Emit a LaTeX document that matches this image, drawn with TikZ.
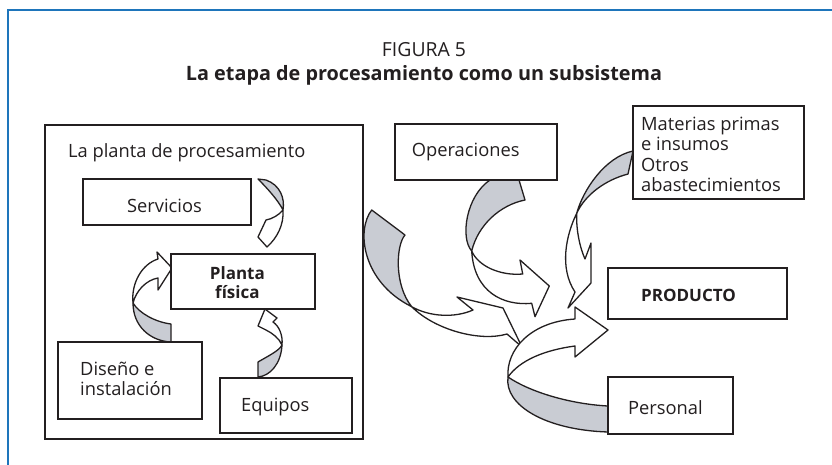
\documentclass[tikz,border=0pt]{standalone}
\usepackage{fontspec}
\setmainfont{Open Sans}
\definecolor{frameblue}{RGB}{30,117,187}
\definecolor{backgray}{RGB}{201,204,211}
\definecolor{ink}{RGB}{35,31,32}
\begin{document}
\begin{tikzpicture}[x=1pt,y=-1pt,
  box/.style={draw=ink, line width=1.8pt, fill=white, inner sep=0pt, rectangle},
  ar/.style={draw=ink, line width=1.3pt, line join=round},
  back/.style={ar, fill=backgray},
  front/.style={ar, fill=white},
  lbl/.style={inner sep=0pt, text=ink, font=\fontsize{18.3}{20.5}\selectfont},
  blbl/.style={inner sep=0pt, text=ink, font=\fontsize{17}{20}\selectfont\bfseries},
]
\useasboundingbox (0,0) rectangle (832,464);
\fill[white] (0,0) rectangle (832,464);
\draw[frameblue, line width=2pt] (8,465) -- (8,10) -- (833,10);

% title
\node[lbl, anchor=base, font=\fontsize{19.4}{20}\selectfont] (fig) at (424,56.7) {FIGURA 5};
\node[blbl, anchor=base, font=\fontsize{19.8}{20}\selectfont\bfseries] (title) at (424,80.7) {La etapa de procesamiento como un subsistema};

% big box
\node[box, fill=none, minimum width=318pt, minimum height=314pt] (plant) at (204,282) {};

% ---- arrows ----
% Servicios -> Planta
\draw[back] (258,179) -- (266,180) .. controls (280,185) and (285,198) .. (283,210)
  .. controls (278,200) and (267,188) .. (258,179) -- cycle;
\draw[front] (283,210) .. controls (284,225) and (277,238) .. (267,247) -- (258,237) -- (266,220)
  .. controls (272,219) and (279,215) .. (283,210) -- cycle;
% Diseno -> Planta
\draw[back] (171,324) -- (171,342) .. controls (150,341) and (133,326) .. (133,303)
  .. controls (139,313) and (155,322) .. (171,324) -- cycle;
\draw[front] (133,303) .. controls (131,283) and (142,264) .. (158,259) -- (157,252) -- (172,268) -- (158,290) -- (158,278)
  .. controls (146,280) and (136,291) .. (133,303) -- cycle;
% Equipos -> Planta
\draw[back] (258,362) -- (258,377) .. controls (270,376) and (281,364) .. (282,345)
  .. controls (279,351) and (268,356) .. (258,362) -- cycle;
\draw[front] (282,345) .. controls (283,335) and (279,326) .. (273,322) -- (277,318) -- (265,309) -- (258,326) -- (266,330)
  .. controls (272,333) and (279,338) .. (282,345) -- cycle;
% Planta (big box) -> producto
\draw[back] (371.7,210) -- (405,235) .. controls (396,245) and (394,285) .. (411.7,306.7)
  .. controls (362,282) and (356,230) .. (371.7,210) -- cycle;
\draw[front] (411.7,306.7) .. controls (430,317) and (455,318) .. (473,310) -- (457,297) -- (503,308) -- (522,347) -- (507,334)
  .. controls (480,342) and (435,330) .. (411.7,306.7) -- cycle;
% Operaciones -> producto
\draw[back] (490,180) -- (519,180) -- (525,200) .. controls (500,205) and (478,225) .. (471.7,251)
  .. controls (460,238) and (466,196) .. (490,180) -- cycle;
\draw[front] (471.7,251) .. controls (478,266) and (500,276) .. (522.7,274) -- (520,260) -- (549.3,286) -- (535,316.7) -- (531.7,303.3)
  .. controls (503,306) and (474,292) .. (471.7,251) -- cycle;
% Materias -> producto
\draw[back] (633,151) -- (628,174) .. controls (605,180) and (585,195) .. (576.7,213.3)
  .. controls (583,190) and (605,157) .. (633,151) -- cycle;
\draw[front] (576.7,213.3) .. controls (566,235) and (559,268) .. (575,292) -- (568,308) -- (591,283) -- (591,243) -- (585,259)
  .. controls (580,248) and (576,230) .. (576.7,213.3) -- cycle;
% Personal -> producto
\draw[back] (608,406) -- (608,432) .. controls (545,430) and (504,405) .. (508,377)
  .. controls (530,392) and (570,404) .. (608,406) -- cycle;
\draw[front] (508,377) .. controls (506,350) and (530,322) .. (575,319) -- (575,307) -- (608,330) -- (575,357) -- (575,346)
  .. controls (545,350) and (520,360) .. (508,377) -- cycle;

% ---- boxes ----
\node[box, minimum width=168pt, minimum height=46pt] (serv) at (167,202) {};
\node[box, minimum width=144pt, minimum height=55pt] (fisica) at (243,281.5) {};
\node[box, minimum width=144pt, minimum height=77pt] (diseno) at (130,380.5) {};
\node[box, minimum width=132pt, minimum height=55pt] (equipos) at (286,405.5) {};
\node[box, minimum width=162pt, minimum height=56pt] (oper) at (476,152) {};
\node[box, minimum width=171pt, minimum height=93pt] (mat) at (718.5,152.5) {};
\node[box, minimum width=179pt, minimum height=51pt] (prod) at (697.5,293.5) {};
\node[box, minimum width=125pt, minimum height=57pt] (pers) at (670.5,405.5) {};

% ---- texts ----
\node[lbl, anchor=base west] (tplant) at (68,157.3) {La planta de procesamiento};
\node[lbl, anchor=base] (tserv) at (164.5,212.3) {Servicios};
\node[blbl, anchor=base] (tfis1) at (237.4,279.3) {Planta};
\node[blbl, anchor=base] (tfis2) at (237.4,298.7) {física};
\node[lbl, anchor=base west] (tdis1) at (80,375) {Diseño e};
\node[lbl, anchor=base west] (tdis2) at (80,395) {instalación};
\node[lbl, anchor=base west] (tequ) at (241,411) {Equipos};
\node[lbl, anchor=base west] (toper) at (411.7,156) {Operaciones};
\node[lbl, anchor=base west] (tmat1) at (641,130) {Materias primas};
\node[lbl, anchor=base west] (tmat2) at (641,150.5) {e insumos};
\node[lbl, anchor=base west] (tmat3) at (641,171) {Otros};
\node[lbl, anchor=base west] (tmat4) at (641,191.5) {abastecimientos};
\node[blbl, anchor=base west] (tprod) at (641,301) {PRODUCTO};
\node[lbl, anchor=base west] (tpers) at (628,414) {Personal};
\end{tikzpicture}
\end{document}
